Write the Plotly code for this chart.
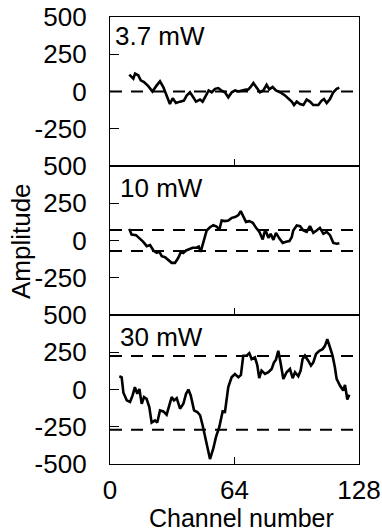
import plotly.graph_objects as go
from plotly.subplots import make_subplots

# Channel positions and amplitudes for each pump power
ch_37 = [9.9, 12.0, 12.9, 14.5, 15.8, 17.5, 19.7, 21.8, 24.0, 25.7, 27.4, 29.1, 30.8, 32.2,
         33.9, 36.0, 38.0, 39.4, 41.1, 42.8, 44.2, 46.3, 47.6, 49.3, 50.7, 52.3, 54.0, 55.7,
         57.4, 59.1, 60.8, 62.6, 64.3, 66.0, 67.7, 69.4, 71.1, 72.3, 73.7, 75.4, 77.1, 78.8,
         80.5, 81.9, 83.6, 85.3, 87.4, 90.0, 91.7, 93.4, 94.6, 96.0, 97.7, 99.4, 101.1, 102.8,
         104.5, 107.1, 108.8, 110.0, 111.4, 113.1, 114.8, 116.5, 117.9]
amp_37 = [113, 86, 120, 109, 75, 64, 36, 0, 41, 68, 30, -27, -84, -45,
          -77, -68, -61, -27, -5, -39, -68, -54, -68, -27, 7, -5, 18, 23,
          5, -5, -39, -5, 7, 0, 7, 11, 14, 30, 57, 23, -5, 7,
          45, 14, 30, 7, -5, -27, -45, -68, -91, -68, -84, -91, -54, -68,
          -91, -91, -61, -50, -77, -50, -5, 18, 25]

ch_10 = [9.9, 11.1, 13.4, 15.1, 17.1, 18.9, 20.6, 22.3, 24.0, 25.4, 26.6, 28.3, 30.0, 31.7,
         33.4, 35.1, 36.5, 37.7, 39.1, 40.8, 42.5, 44.2, 45.6, 46.6, 48.0, 49.7, 51.4, 53.1,
         54.8, 56.2, 57.4, 59.1, 60.8, 62.6, 64.3, 66.0, 67.2, 68.5, 69.9, 71.6, 73.4, 75.1,
         76.8, 78.5, 79.8, 81.4, 82.6, 84.0, 85.3, 87.1, 88.8, 90.5, 92.2, 93.4, 94.2, 96.0,
         97.7, 99.4, 101.1, 102.8, 104.5, 106.2, 107.9, 109.7, 111.4, 113.1, 114.8, 116.5, 117.9]
amp_10 = [78, 40, 36, 18, -9, -38, -31, -67, -83, -76, -105, -112, -134, -150,
          -150, -116, -76, -83, -67, -60, -49, -49, -40, -76, -4, 67, 89, 103,
          94, 72, 134, 130, 134, 152, 157, 170, 197, 157, 125, 130, 119, 85,
          58, 7, 74, 18, 45, 4, 51, 13, -16, -9, -4, 22, 67, 101,
          96, 67, 58, 96, 51, 67, 85, 45, 58, 36, -16, -22, -18]

ch_30 = [4.8, 6.0, 6.9, 8.6, 10.3, 11.6, 12.8, 14.0, 15.1, 16.3, 17.5, 18.8, 20.2, 21.4,
         23.1, 24.3, 25.7, 27.4, 29.1, 30.5, 31.7, 32.9, 34.3, 36.0, 37.7, 39.1, 40.3, 41.5,
         43.2, 44.9, 46.3, 47.6, 48.8, 50.0, 51.4, 53.1, 54.5, 56.2, 57.9, 59.1, 60.8, 62.5,
         64.2, 66.0, 67.3, 68.5, 70.2, 71.6, 72.8, 74.5, 75.7, 76.7, 77.9, 79.7, 81.4, 83.1,
         84.3, 85.3, 86.5, 87.7, 89.1, 90.8, 92.5, 93.9, 95.1, 96.8, 98.0, 99.0, 100.2, 101.9,
         103.3, 104.5, 105.9, 107.6, 109.3, 110.5, 111.7, 113.1, 114.4, 115.6, 116.5, 118.2,
         119.9, 120.8, 122.0, 123.0]
amp_30 = [89, 82, -22, -73, -84, -40, 16, -29, 4, -96, -51, -62, -118, -222,
          -207, -222, -140, -147, -169, -107, -51, -73, -58, -129, -96, -29, 0, -40,
          -140, -151, -173, -240, -307, -396, -467, -396, -318, -251, -147, -151, 16, 82,
          104, 82, 98, 227, 227, 244, 204, 216, 164, 76, 127, 104, 116, 138,
          182, 200, 260, 178, 71, 116, 138, 76, 116, 89, 127, 204, 227, 193,
          160, 182, 238, 260, 271, 293, 338, 282, 227, 149, 71, 27,
          -7, 31, -67, -36]

# Threshold levels shown as dashed lines in each panel
thresholds = [[0], [70, -70], [225, -270]]
power_labels = ["3.7 mW", "10 mW", "30 mW"]
series = [(ch_37, amp_37), (ch_10, amp_10), (ch_30, amp_30)]

x_ticks = [0, 64, 128]
y_ticks = [[500, 250, 0, -250], [500, 250, 0, -250], [500, 250, 0, -250, -500]]

FONT = "Liberation Sans, Arial, sans-serif"
FS = 26

fig = make_subplots(rows=3, cols=1, shared_xaxes=True, vertical_spacing=0)

for i, (xs, ys) in enumerate(series, start=1):
    for level in thresholds[i - 1]:
        fig.add_trace(go.Scatter(x=[0, 128], y=[level, level], mode="lines",
                                 line=dict(color="black", width=2, dash="12px,9px"),
                                 hoverinfo="skip", showlegend=False), row=i, col=1)
    fig.add_trace(go.Scatter(x=xs, y=ys, mode="lines",
                             line=dict(color="black", width=2.6),
                             showlegend=False), row=i, col=1)
    fig.update_yaxes(range=[-500, 500], tickvals=y_ticks[i - 1],
                     ticktext=[str(v) for v in y_ticks[i - 1]],
                     ticks="inside", ticklen=9, tickwidth=1, tickcolor="black",
                     showline=True, linecolor="black", linewidth=1.3, mirror=True,
                     showgrid=False, zeroline=False, automargin=False,
                     tickfont=dict(family=FONT, size=FS, color="black"),
                     ticklabelstandoff=17, row=i, col=1)
    fig.update_xaxes(range=[0, 128], tickvals=x_ticks, ticks="inside", ticklen=7,
                     tickwidth=1, tickcolor="black",
                     showline=True, linecolor="black", linewidth=1.3, mirror=True,
                     showgrid=False, zeroline=False, automargin=False,
                     showticklabels=(i == 3),
                     tickfont=dict(family=FONT, size=FS, color="black"),
                     ticklabelstandoff=3, row=i, col=1)
    ax = "" if i == 1 else str(i)
    fig.add_annotation(text=power_labels[i - 1], xref=f"x{ax} domain", yref=f"y{ax} domain",
                       x=0.012 if i == 1 else 0.032, y=0.87 if i == 1 else 0.855,
                       xanchor="left", yanchor="middle", showarrow=False,
                       font=dict(family=FONT, size=FS, color="black"))

# Axis titles
fig.add_annotation(text="Channel number", xref="paper", yref="paper", x=0.529, y=-0.1215,
                   xanchor="center", yanchor="middle", showarrow=False,
                   font=dict(family=FONT, size=25, color="black"))
fig.add_annotation(text="Amplitude", xref="paper", yref="paper", x=-0.357, y=0.499,
                   xanchor="center", yanchor="middle", textangle=-90, showarrow=False,
                   font=dict(family=FONT, size=FS, color="black"))

fig.update_layout(width=382, height=532, margin=dict(l=110, r=23, t=17, b=68),
                  plot_bgcolor="white", paper_bgcolor="white")

fig.write_html("out.html")
